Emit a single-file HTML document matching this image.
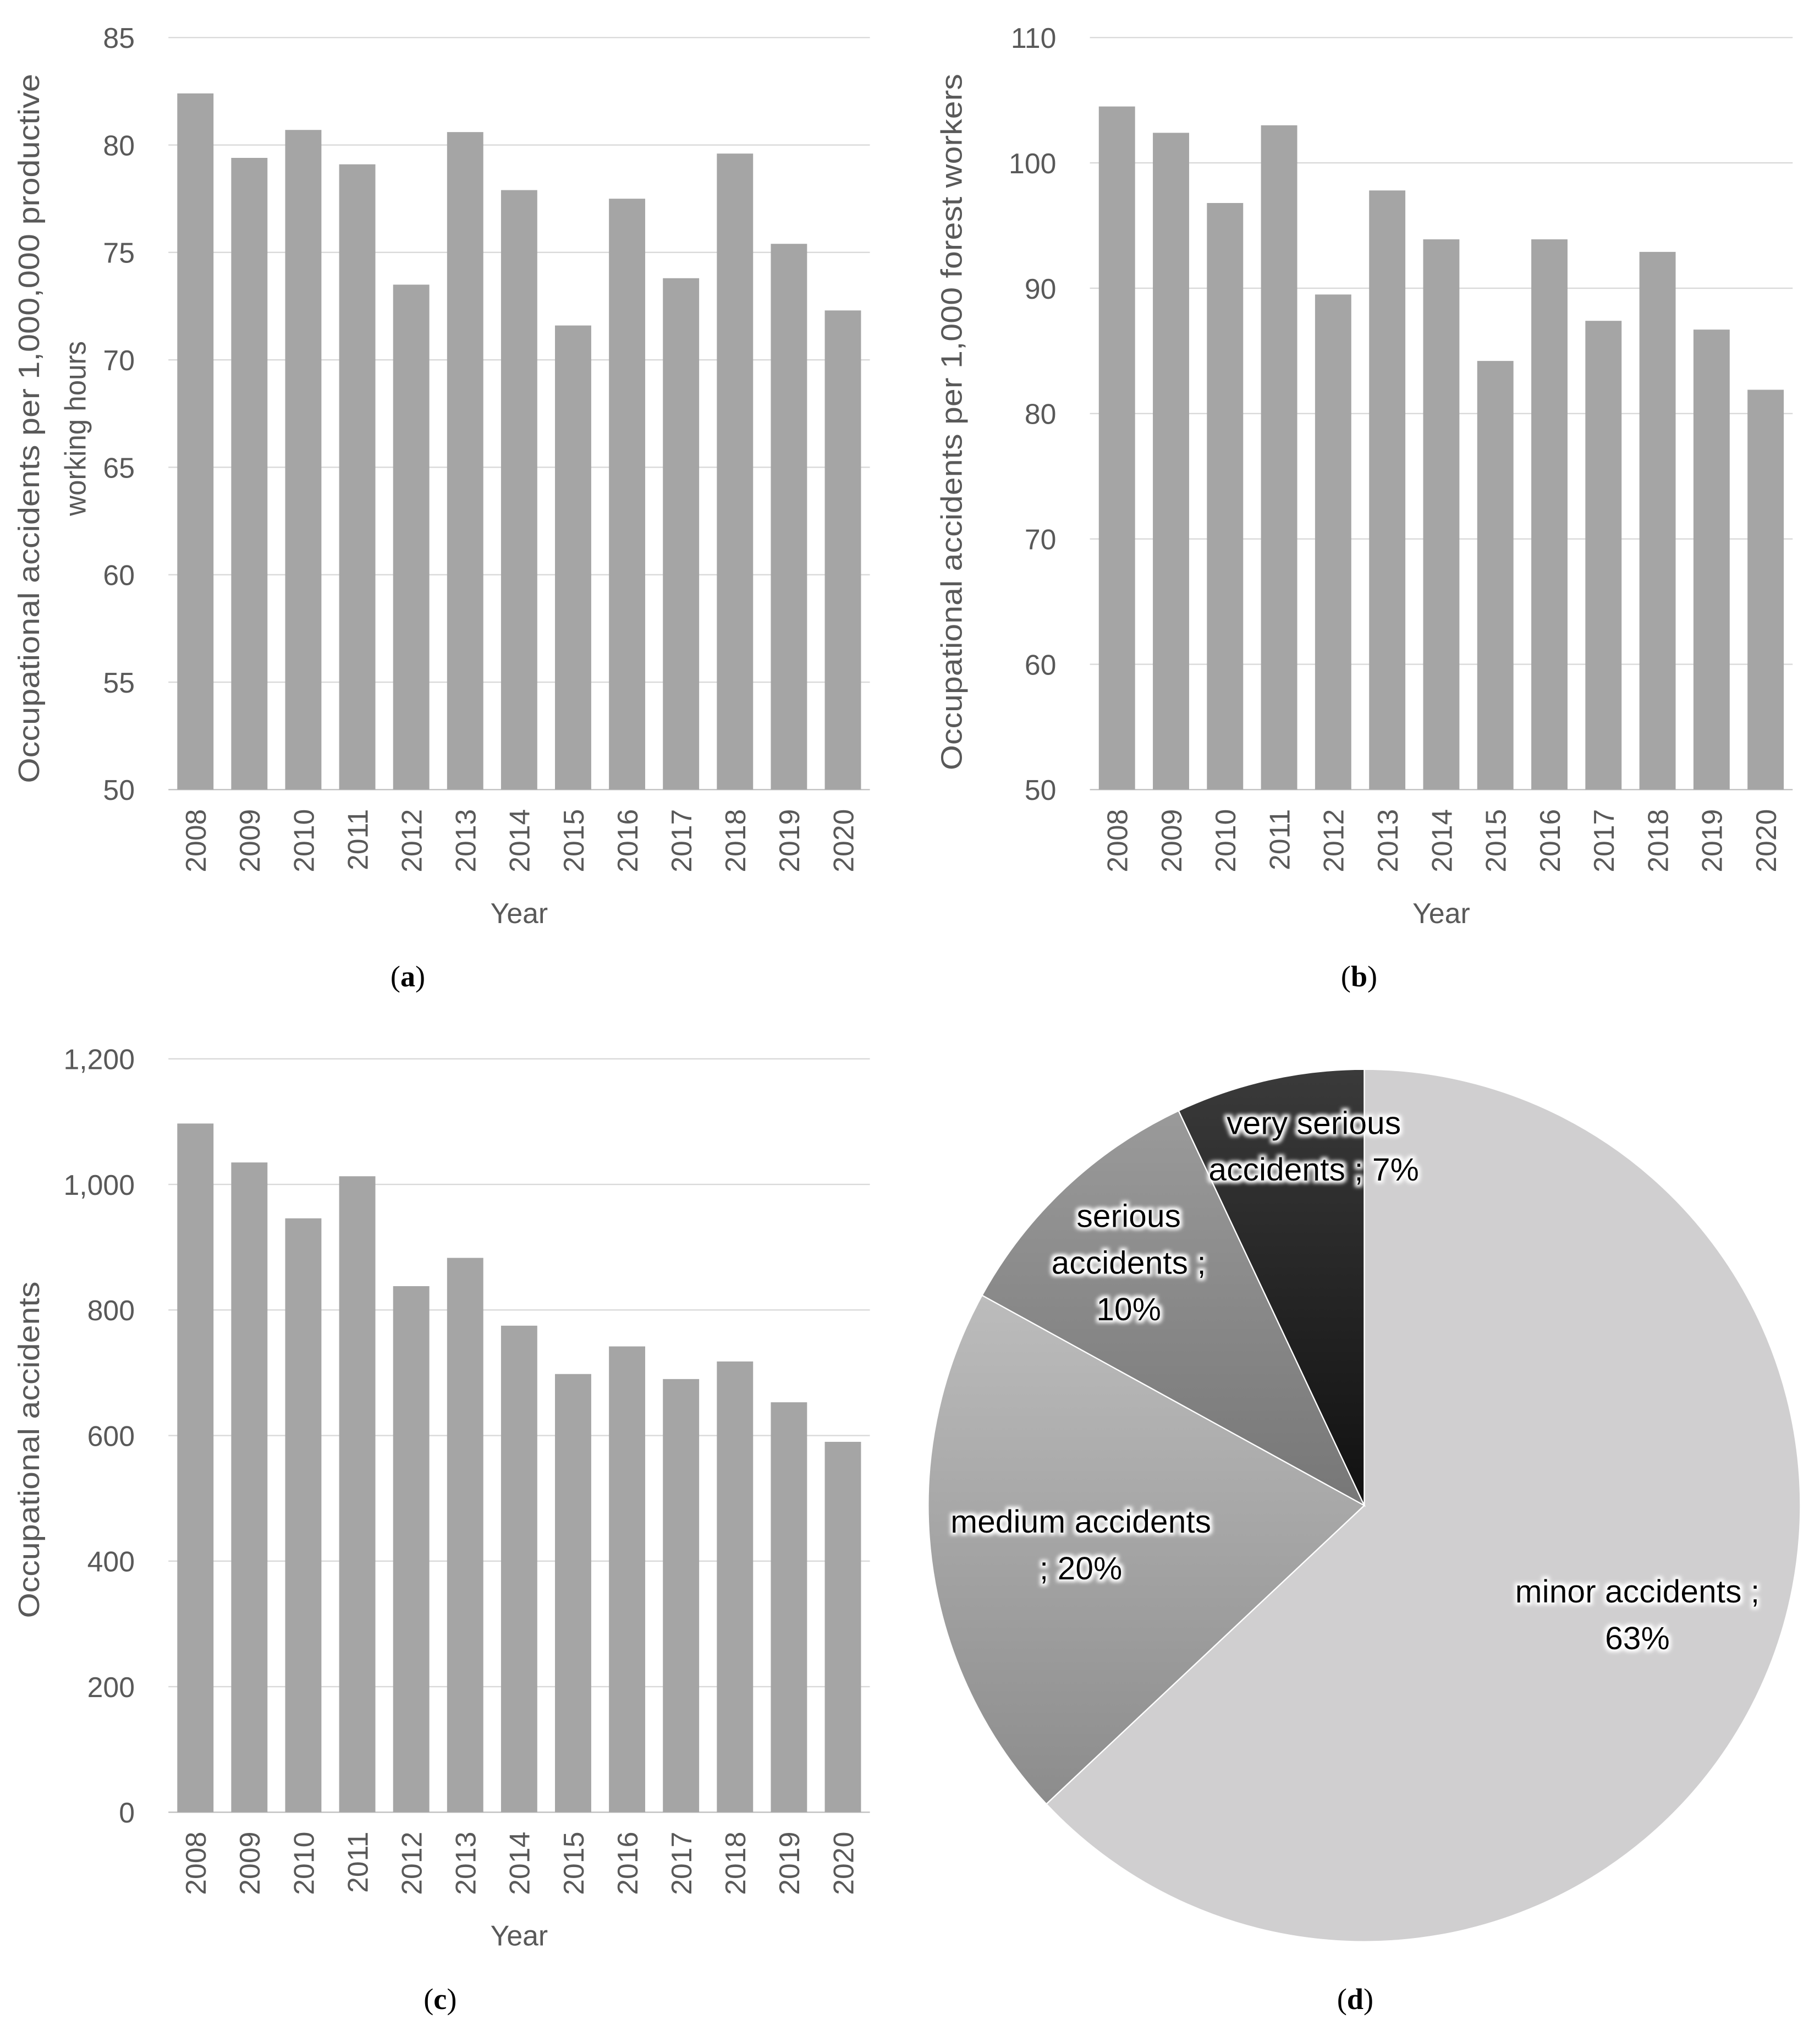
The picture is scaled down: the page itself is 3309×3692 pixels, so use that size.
<!DOCTYPE html>
<html><head><meta charset="utf-8">
<style>
html,body{margin:0;padding:0;background:#fff;}
svg{display:block;font-family:"Liberation Sans",sans-serif;}
</style></head>
<body>
<svg id="s" width="3309" height="3692" viewBox="0 0 1406 1569" xmlns="http://www.w3.org/2000/svg">
<defs>
<linearGradient id="gMed" x1="0" y1="0" x2="0" y2="1"><stop offset="0" stop-color="#bcbcbc"/><stop offset="1" stop-color="#8c8c8c"/></linearGradient>
<linearGradient id="gSer" x1="0" y1="0" x2="0" y2="1"><stop offset="0" stop-color="#9a9a9a"/><stop offset="1" stop-color="#777"/></linearGradient>
<linearGradient id="gVs" x1="0" y1="0" x2="0" y2="1"><stop offset="0" stop-color="#3a3a3a"/><stop offset="1" stop-color="#111"/></linearGradient>
<filter id="glow"><feMorphology in="SourceAlpha" operator="dilate" radius="2" result="d"/><feGaussianBlur in="d" stdDeviation="1.5" result="b"/><feFlood flood-color="#fff"/><feComposite in2="b" operator="in" result="w"/><feMerge><feMergeNode in="w"/><feMergeNode in="SourceGraphic"/></feMerge></filter>
</defs>
</svg>
<script>
const years=["2008","2009","2010","2011","2012","2013","2014","2015","2016","2017","2018","2019","2020"];
const valsA=[82.4,79.4,80.7,79.1,73.5,80.6,77.9,71.6,77.5,73.8,79.6,75.4,72.3];
const valsB=[104.5,102.4,96.8,103,89.5,97.8,93.9,84.2,93.9,87.4,92.9,86.7,81.9];
const valsC=[1097,1035,946,1013,838,883,775,698,742,690,718,653,590];
const ticksA=[50,55,60,65,70,75,80,85];
const ticksB=[50,60,70,80,90,100,110];
const ticksC=[0,200,400,600,800,1000,1200];
const pieLabels=["minor accidents","medium accidents","serious accidents","very serious accidents"];
const pieVals=[63,20,10,7];

const NS="http://www.w3.org/2000/svg";
const svg=document.getElementById('s');
function el(tag,attrs,parent,text){const e=document.createElementNS(NS,tag);for(const k in attrs)e.setAttribute(k,attrs[k]);if(text!==undefined)e.textContent=text;(parent||svg).appendChild(e);return e;}

function bar(cfg){
  const g=el('g',{});
  
  
  const ys=v=>cfg.y0-(v-cfg.min)/(cfg.max-cfg.min)*(cfg.y0-cfg.y1);
  cfg.ticks.forEach(t=>{
    const ln=el('line',{x1:cfg.x0,x2:cfg.x1,y1:ys(t),y2:ys(t),stroke:t===cfg.min?'#bfbfbf':'#d9d9d9','stroke-width':1},g);
    
    
    const tx=el('text',{x:cfg.x0-26,y:ys(t)+8,'text-anchor':'end','font-size':22,fill:'#595959'},g,cfg.fmt?cfg.fmt(t):t);
    
    
  });
  const step=(cfg.x1-cfg.x0)/years.length;
  cfg.vals.forEach((v,i)=>{
    const cx=cfg.x0+step*(i+0.5);
    const r=el('rect',{x:cx-14,y:ys(v),width:28,height:cfg.y0-ys(v),fill:'#a5a5a5'},g);
    
    
    const t=el('text',{x:0,y:0,transform:`translate(${cx+8},${cfg.y0+15}) rotate(-90)`,'text-anchor':'end','font-size':22,fill:'#595959'},g,years[i]);
    
    
  });
  const xt=el('text',{x:(cfg.x0+cfg.x1)/2,y:cfg.y0+103,'text-anchor':'middle','font-size':22,fill:'#595959'},g,'Year');
  
  
  cfg.title.forEach((line,i)=>{
    const t=el('text',{x:0,y:0,transform:`translate(${cfg.tx+i*36},${cfg.ty}) rotate(-90)`,'text-anchor':'middle','font-size':23,fill:'#595959',textLength:cfg.tl[i],lengthAdjust:'spacingAndGlyphs'},g,line);
    
    
  });
  const cap=el('text',{x:cfg.cx,y:cfg.cy,'text-anchor':'middle','font-size':23,fill:'#000','font-family':'Liberation Serif, serif'},g);
  
  
  cap.innerHTML='(<tspan font-weight="bold">'+cfg.letter+'</tspan>)';
}
bar({name:'chart-a',x0:130,x1:672,y0:610,y1:29,min:50,max:85,ticks:ticksA,vals:valsA,title:['Occupational accidents per 1,000,000 productive','working hours'],tl:[548,135],tx:30,ty:331,cx:315,cy:762,letter:'a'});
bar({name:'chart-b',x0:842,x1:1385,y0:610,y1:29,min:50,max:110,ticks:ticksB,vals:valsB,title:['Occupational accidents per 1,000 forest workers'],tl:[538],tx:743,ty:326,cx:1050,cy:762,letter:'b'});
bar({name:'chart-c',x0:130,x1:672,y0:1400,y1:818,min:0,max:1200,ticks:ticksC,vals:valsC,fmt:t=>t.toLocaleString('en-US'),title:['Occupational accidents'],tl:[260],tx:30,ty:1120,cx:340,cy:1552,letter:'c'});

// pie
const pg=el('g',{});


const CX=1054,CY=1163,R=337;
const fills=['#d0cfd0','url(#gMed)','url(#gSer)','url(#gVs)'];
const total=pieVals.reduce((a,b)=>a+b,0);
let acc=0;
pieVals.forEach((v,i)=>{
  const a0=acc/total*2*Math.PI, a1=(acc+v)/total*2*Math.PI; acc+=v;
  const p=(a)=>[CX+R*Math.sin(a),CY-R*Math.cos(a)];
  const [x0,y0]=p(a0),[x1,y1]=p(a1);
  const s=el('path',{d:`M${CX},${CY}L${x0},${y0}A${R},${R} 0 ${a1-a0>Math.PI?1:0} 1 ${x1},${y1}Z`,fill:fills[i],stroke:'#fff','stroke-width':1},pg);
  
  
});
const labelLines=[[ 'minor accidents ;', pieVals[0]+'%'],['medium accidents','; '+pieVals[1]+'%'],['serious','accidents ;',pieVals[2]+'%'],['very serious','accidents ; '+pieVals[3]+'%']];
const labelPos=[[1265,1238],[835,1184],[872,948],[1015,876]];
labelLines.forEach((lines,i)=>{
  const t=el('text',{'text-anchor':'middle','font-size':25,fill:'#000',filter:'url(#glow)'},pg);
  
  
  lines.forEach((l,j)=>{el('tspan',{x:labelPos[i][0],y:labelPos[i][1]+j*36},t,l);});
});
const capd=el('text',{x:1047,y:1552,'text-anchor':'middle','font-size':23,'font-family':'Liberation Serif, serif'},pg);


capd.innerHTML='(<tspan font-weight="bold">d</tspan>)';
</script>
</body></html>
